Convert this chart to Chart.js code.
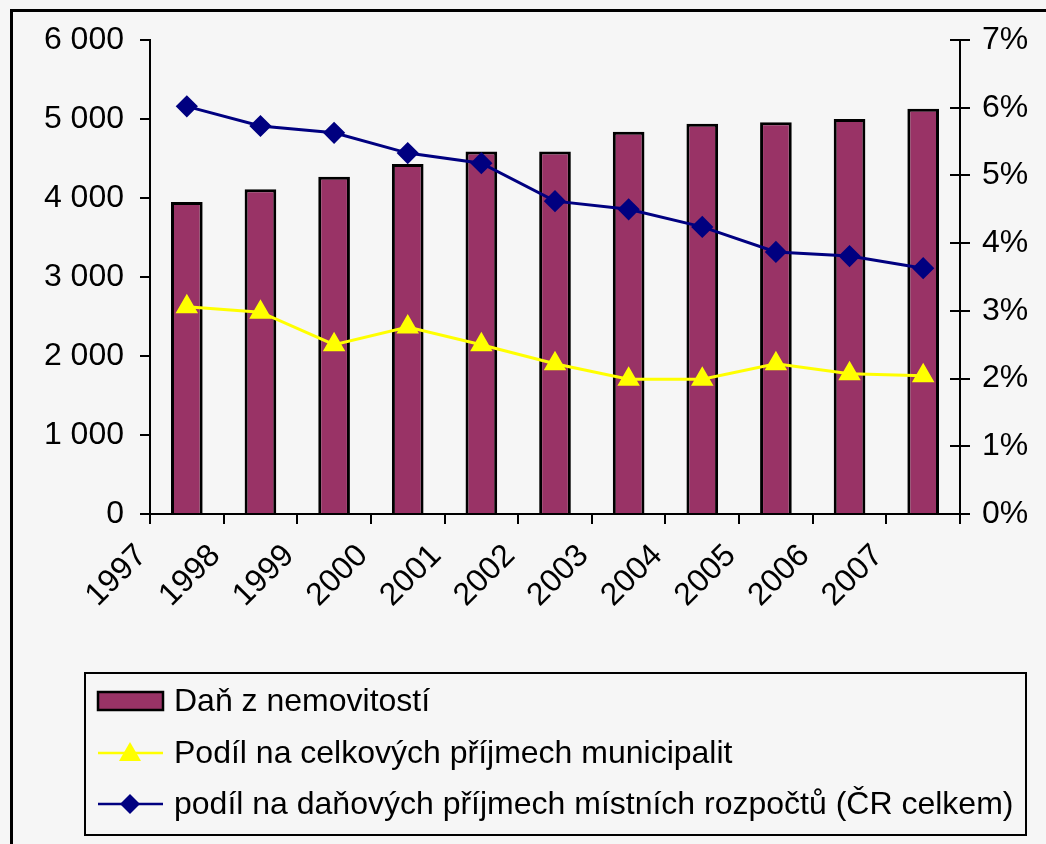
<!DOCTYPE html>
<html>
<head>
<meta charset="utf-8">
<script src="https://cdn.jsdelivr.net/npm/chart.js@4.4.1/dist/chart.umd.min.js"></script>
<style>
  html, body { margin: 0; padding: 0; background: #f6f6f6; }
  #wrap { width: 1046px; height: 844px; }
</style>
</head>
<body>
<div id="wrap"><canvas id="myChart" width="1046" height="844"></canvas></div>
<script>
// données
var roky = ['1997','1998','1999','2000','2001','2002','2003','2004','2005','2006','2007'];
var dan = [3950, 4110, 4270, 4430, 4590, 4590, 4840, 4940, 4960, 5000, 5130];
var podilCelkove = [3.06, 2.98, 2.50, 2.76, 2.50, 2.22, 1.99, 1.99, 2.22, 2.07, 2.04];
var podilDanove = [6.02, 5.73, 5.63, 5.33, 5.18, 4.62, 4.50, 4.24, 3.87, 3.81, 3.63];
var labelsLegend = ['Daň z nemovitostí', 'Podíl na celkových příjmech municipalit',
  'podíl na daňových příjmech místních rozpočtů (ČR celkem)'];

var font = 'Liberation Sans, Arial, sans-serif';

// cadre + légende dessinés à la main
var cadrePlugin = {
  id: 'cadre',
  beforeDraw: function(chart) {
    var c = chart.ctx;
    c.save();
    c.fillStyle = '#f6f6f6';
    c.fillRect(0, 0, chart.width, chart.height);
    c.strokeStyle = '#000';
    c.lineWidth = 3;
    c.beginPath();
    c.moveTo(11.5, chart.height + 5);
    c.lineTo(11.5, 10.5);
    c.lineTo(chart.width + 5, 10.5);
    c.stroke();
    c.restore();
  },
  afterDraw: function(chart) {
    var c = chart.ctx;
    var ds = chart.data.datasets;
    c.save();
    // petits traits de l'axe droit, côté intérieur
    var y1 = chart.scales.y1;
    c.strokeStyle = '#000';
    c.lineWidth = 2;
    y1.ticks.forEach(function(t) {
      var py = Math.round(y1.getPixelForValue(t.value));
      c.beginPath();
      c.moveTo(y1.left - 10, py);
      c.lineTo(y1.left, py);
      c.stroke();
    });
    // boîte de légende
    c.lineWidth = 2;
    c.strokeRect(85, 673, 941, 162);
    c.font = '32px ' + font;
    c.textBaseline = 'middle';
    var rows = [701, 753, 804];
    // barre
    c.fillStyle = ds[0].backgroundColor;
    c.fillRect(98, rows[0] - 9, 65, 18);
    c.lineWidth = 2.5;
    c.strokeRect(98, rows[0] - 9, 65, 18);
    // lignes
    [1, 2].forEach(function(k) {
      var y = rows[k];
      c.strokeStyle = ds[k].borderColor;
      c.lineWidth = 2.5;
      c.beginPath();
      c.moveTo(98, y);
      c.lineTo(163, y);
      c.stroke();
      c.fillStyle = ds[k].pointBackgroundColor;
      c.beginPath();
      if (k === 1) {
        c.moveTo(130, y - 11);
        c.lineTo(141, y + 8);
        c.lineTo(119, y + 8);
      } else {
        c.moveTo(130, y - 10);
        c.lineTo(140, y);
        c.lineTo(130, y + 10);
        c.lineTo(120, y);
      }
      c.closePath();
      c.fill();
    });
    c.fillStyle = '#000';
    labelsLegend.forEach(function(t, i) {
      c.fillText(t, 174, rows[i] + 1);
    });
    c.restore();
  }
};

var ctx = document.getElementById('myChart').getContext('2d');
var myChart = new Chart(ctx, {
  type: 'bar',
  data: {
    labels: roky,
    datasets: [{
      label: labelsLegend[0],
      data: dan,
      backgroundColor: '#993366',
      borderColor: '#000000',
      borderWidth: 3,
      barPercentage: 0.43,
      categoryPercentage: 1,
      yAxisID: 'y',
      order: 3
    }, {
      type: 'line',
      label: labelsLegend[1],
      data: podilCelkove,
      borderColor: '#ffff00',
      backgroundColor: '#ffff00',
      pointBackgroundColor: '#ffff00',
      pointBorderColor: '#ffff00',
      pointStyle: 'triangle',
      pointRadius: 10,
      borderWidth: 3,
      tension: 0,
      yAxisID: 'y1',
      order: 2
    }, {
      type: 'line',
      label: labelsLegend[2],
      data: podilDanove,
      borderColor: '#000080',
      backgroundColor: '#000080',
      pointBackgroundColor: '#000080',
      pointBorderColor: '#000080',
      pointStyle: 'rectRot',
      pointRadius: 9,
      borderWidth: 3,
      tension: 0,
      yAxisID: 'y1',
      order: 1
    }]
  },
  options: {
    responsive: false,
    animation: false,
    layout: { padding: { left: 40, right: 0, top: 40, bottom: 220 } },
    plugins: {
      legend: { display: false },
      tooltip: { enabled: false }
    },
    scales: {
      x: {
        offset: true,
        border: { color: '#000', width: 2 },
        grid: { offset: true, drawOnChartArea: false, color: '#000', lineWidth: 2, tickLength: 10 },
        ticks: {
          color: '#000',
          font: { family: font, size: 32 },
          minRotation: 45,
          maxRotation: 45,
          labelOffset: -45,
          padding: 13
        },
        afterFit: function(scale) { scale.height = 110; }
      },
      y: {
        position: 'left',
        min: 0,
        max: 6000,
        border: { color: '#000', width: 2 },
        grid: { drawOnChartArea: false, color: '#000', lineWidth: 2, tickLength: 10 },
        ticks: {
          stepSize: 1000,
          color: '#000',
          padding: 16,
          font: { family: font, size: 32 },
          callback: function(value) {
            return String(value).replace(/\B(?=(\d{3})+(?!\d))/g, ' ');
          }
        },
        afterFit: function(scale) { scale.width = 110; }
      },
      y1: {
        position: 'right',
        min: 0,
        max: 7,
        border: { color: '#000', width: 2 },
        grid: { drawOnChartArea: false, color: '#000', lineWidth: 2, tickLength: 10 },
        ticks: {
          stepSize: 1,
          color: '#000',
          padding: 12,
          font: { family: font, size: 32 },
          callback: function(value) {
            return value + '%';
          }
        },
        afterFit: function(scale) { scale.width = 86; }
      }
    }
  },
  plugins: [cadrePlugin]
});
</script>
</body>
</html>
